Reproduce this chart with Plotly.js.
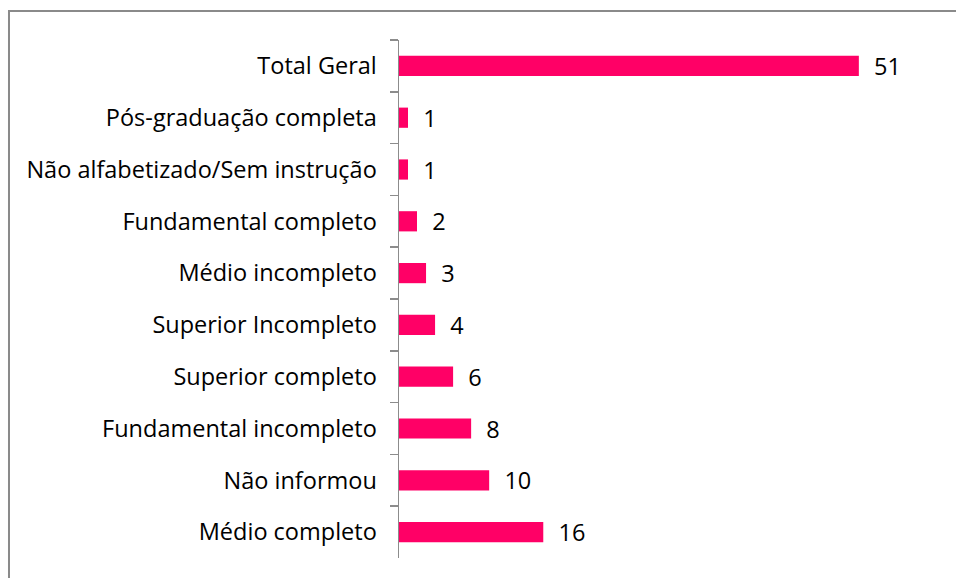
<!DOCTYPE html>
<html>
<head>
<meta charset="utf-8">
<script src="https://cdn.plot.ly/plotly-3.0.1.min.js"></script>
<style>html,body{margin:0;padding:0;background:#fff;}#chart{width:956px;height:578px;}</style>
</head>
<body>
<div id="chart"></div>
<script>
const categories = [
  "Total Geral",
  "Pós-graduação completa",
  "Não alfabetizado/Sem instrução",
  "Fundamental completo",
  "Médio incompleto",
  "Superior Incompleto",
  "Superior completo",
  "Fundamental incompleto",
  "Não informou",
  "Médio completo"
];
const values = [51, 1, 1, 2, 3, 4, 6, 8, 10, 16];

const FONT = "'Open Sans', 'Noto Sans', sans-serif";

const trace = {
  type: "bar",
  orientation: "h",
  y: categories,
  x: values,
  marker: {color: "#FF0066"},
  text: values.map(v => "\u00a0\u00a0" + v),
  textposition: "outside",
  constraintext: "none",
  textfont: {family: FONT, size: 23.5, color: "#000"},
  cliponaxis: false,
  hoverinfo: "none"
};

const layout = {
  width: 956,
  height: 578,
  margin: {l: 399, r: 16, t: 40, b: 20, pad: 0},
  paper_bgcolor: "#fff",
  plot_bgcolor: "#fff",
  showlegend: false,
  bargap: 0.61,
  font: {family: FONT, size: 23.5, color: "#000"},
  xaxis: {
    range: [0, 60],
    visible: false,
    showgrid: false,
    zeroline: false
  },
  yaxis: {
    type: "category",
    autorange: "reversed",
    showline: true,
    linecolor: "#8c8c8c",
    linewidth: 1.5,
    ticks: "outside",
    tickson: "boundaries",
    ticklen: 8,
    tickwidth: 1.5,
    tickcolor: "#8c8c8c",
    ticklabelstandoff: 16,
    showgrid: false,
    zeroline: false,
    tickfont: {family: FONT, size: 23.5, color: "#000"}
  },
  shapes: [{
    type: "rect",
    xref: "paper", yref: "paper",
    x0: -0.7209, x1: 1.2, y0: -0.2, y1: 1.056,
    line: {color: "#8a8a8a", width: 2},
    fillcolor: "rgba(0,0,0,0)",
    layer: "below"
  }]
};

Plotly.newPlot("chart", [trace], layout, {staticPlot: true, displayModeBar: false});
</script>
</body>
</html>
